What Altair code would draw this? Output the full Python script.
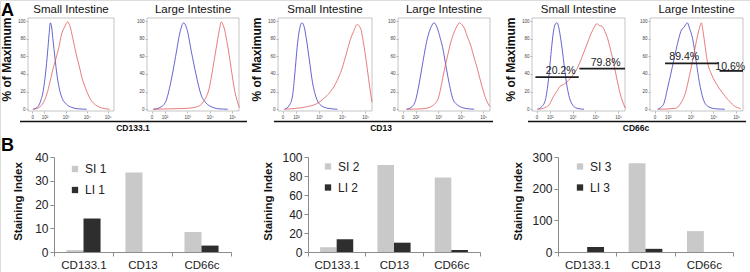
import altair as alt
import pandas as pd

FONT = "Liberation Sans"
BLUE = "#3d3dc4"
RED = "#e25a5a"
LIGHT = "#c9c9c9"
DARK = "#2e2e2e"
H = 272  # chart height

# ---------------- data ----------------
markers = ["CD133.1", "CD13", "CD66c"]
tissue_titles = ["Small Intestine", "Large Intestine"]

# Histogram curves. x: decades (0 -> 10^2, 1 -> 10^3, ...), y: % of maximum
cd133_si_blue_x = [-0.55, -0.35, -0.2, -0.05, 0.05, 0.15, 0.22, 0.28, 0.33, 0.4, 0.5, 0.6, 0.72, 0.85, 1.03, 1.3, 1.6, 2.0]
cd133_si_blue_y = [0, 2, 8, 22, 40, 65, 85, 98, 95, 80, 58, 38, 22, 12, 6, 2, 0.5, 0]
cd133_si_red_x = [-0.5, -0.2, 0, 0.15, 0.3, 0.42, 0.55, 0.7, 0.8, 0.95, 1.1, 1.2, 1.35, 1.5, 1.65, 1.8, 1.95, 2.1, 2.25, 2.42, 2.65, 2.9, 3.1]
cd133_si_red_y = [0, 3, 10, 20, 35, 47, 58, 72, 84, 93, 99, 95, 80, 63, 49, 34, 24, 15, 9, 5, 2, 0.5, 0]
cd133_li_blue_x = [-0.5, -0.2, 0.04, 0.27, 0.49, 0.69, 0.84, 1.0, 1.19, 1.39, 1.61, 1.84, 2.06, 2.4, 2.8]
cd133_li_blue_y = [0, 2, 8, 30, 60, 88, 98, 90, 65, 40, 17, 7, 3, 0.5, 0]
cd133_li_red_x = [-0.5, 0.3, 1.0, 1.46, 1.76, 1.99, 2.13, 2.28, 2.43, 2.51, 2.63, 2.81, 2.96, 3.1, 3.25, 3.32]
cd133_li_red_y = [0, 0.5, 1, 3, 10, 25, 45, 68, 90, 99, 93, 70, 45, 22, 7, 2]

cd13_si_blue_x = [-0.5, -0.3, -0.15, -0.05, 0.05, 0.15, 0.26, 0.35, 0.45, 0.57, 0.72, 0.88, 1.1, 1.4, 1.8]
cd13_si_blue_y = [0, 4, 15, 40, 70, 90, 98, 94, 80, 58, 30, 13, 4, 1, 0]
cd13_si_red_x = [-0.5, 0, 0.5, 0.88, 1.2, 1.5, 1.7, 1.88, 2.0, 2.1, 2.26, 2.4, 2.5, 2.65, 2.8, 2.95, 3.1, 3.2, 3.3]
cd13_si_red_y = [0, 1, 3, 6, 12, 20, 28, 38, 46, 55, 70, 82, 88, 96, 92, 72, 45, 25, 8]
cd13_li_blue_x = [-0.4, -0.15, 0, 0.15, 0.3, 0.52, 0.7, 0.82, 0.95, 1.1, 1.2, 1.34, 1.5, 1.65, 1.85, 2.2, 2.6]
cd13_li_blue_y = [0, 3, 10, 28, 50, 80, 94, 98, 93, 80, 70, 50, 28, 12, 5, 1, 0]
cd13_li_red_x = [-0.4, 0.3, 0.6, 0.97, 1.1, 1.2, 1.34, 1.45, 1.55, 1.72, 1.85, 1.94, 2.05, 2.16, 2.3, 2.45, 2.6, 2.75, 2.9, 3.06, 3.2, 3.3]
cd13_li_red_y = [0, 0.5, 2, 10, 22, 35, 52, 64, 75, 88, 95, 98, 96, 92, 82, 72, 58, 45, 30, 16, 7, 3]

cd66_si_blue_x = [-0.55, -0.35, -0.2, -0.05, 0.05, 0.16, 0.25, 0.32, 0.4, 0.48, 0.56, 0.63, 0.72, 0.8, 0.95, 1.2, 1.5]
cd66_si_blue_y = [0, 3, 10, 35, 62, 88, 97, 98, 92, 80, 65, 50, 32, 20, 7, 1, 0]
cd66_si_red_x = [-0.5, -0.2, 0, 0.15, 0.3, 0.45, 0.6, 0.75, 0.9, 1.05, 1.2, 1.35, 1.5, 1.65, 1.8, 1.95, 2.06, 2.18, 2.3, 2.42, 2.54, 2.66, 2.78, 2.9, 3.02, 3.15, 3.25, 3.32]
cd66_si_red_y = [0, 2, 6, 14, 20, 26, 28, 31, 35, 40, 46, 55, 65, 75, 85, 93, 97, 95, 94, 88, 80, 68, 55, 40, 25, 12, 5, 1]
cd66_li_blue_x = [-0.45, -0.2, 0, 0.26, 0.48, 0.6, 0.71, 0.86, 0.95, 1.09, 1.24, 1.39, 1.55, 1.77, 2.1, 2.5]
cd66_li_blue_y = [0, 5, 25, 55, 80, 90, 93, 98, 92, 80, 55, 30, 12, 3, 0.5, 0]
cd66_li_red_x = [-0.4, 0.33, 0.55, 0.79, 0.95, 1.09, 1.2, 1.32, 1.42, 1.47, 1.55, 1.62, 1.7, 1.77, 1.88, 2.0, 2.15, 2.3, 2.45, 2.6, 2.75, 2.9, 3.05, 3.2]
cd66_li_red_y = [0, 1, 6, 20, 38, 55, 70, 85, 95, 98, 88, 75, 60, 50, 42, 35, 28, 22, 17, 12, 8, 4, 2, 0.5]

# CD66c gates
gate_si_x = [-0.63, 1.3]
gate_si_x2 = [1.27, 3.3]
gate_si_y = [36.5, 46]
gate_si_label = ["20.2%", "79.8%"]
gate_si_label_x = [0.48, 2.45]
gate_si_label_y = [43, 53]
gate_li_x = [-0.12, 2.27]
gate_li_x2 = [2.23, 3.3]
gate_li_y = [52, 43.5]
gate_li_label = ["89.4%", "10.6%"]
gate_li_label_x = [0.72, 2.74]
gate_li_label_y = [59, 47.5]

# Staining index bars
si_1 = [0.8, 33.5, 8.4]
li_1 = [14.1, 0.0, 2.7]
si_2 = [5.0, 91.5, 78.5]
li_2 = [13.3, 9.8, 2.1]
si_3 = [0.0, 280.0, 66.0]
li_3 = [15.5, 10.0, 0.0]
bar_max = [40, 100, 300]
bar_ticks = [[0, 10, 20, 30, 40], [0, 20, 40, 60, 80, 100], [0, 100, 200, 300]]

# ---------------- layout (pixels) ----------------
UMIN, UMAX = -0.78, 3.3
PMIN, PMAX = -2, 103.5
HIST_X = [(28, 114), (147, 239), (278, 372), (398, 490), (532, 625), (650, 743)]
HIST_Y = (111, 18)
BAR_X = [(54, 231), (308, 480), (558, 733)]
BAR_Y = (252, 157)
LEGEND_XY = [(69, 163), (322, 160.5), (574, 160.5)]
BRACKETS = [(20, 247, 133), (274, 493, 381), (528, 746, 636)]

LABEL_EXPR = ("datum.value < -0.3 ? '0' : "
              "'10' + ['\u00b2','\u00b3','\u2074','\u2075'][round(datum.value)]")


def hist_panel(bx, by, rx, ry, xr, title, ytitle, gates=None):
    xs = alt.Scale(domain=[UMIN, UMAX], range=list(xr), nice=False, zero=False)
    ys = alt.Scale(domain=[PMIN, PMAX], range=list(HIST_Y), nice=False, zero=False)
    xax = alt.Axis(orient="bottom", offset=HIST_Y[0] - H, values=[-0.58, 0, 1, 2, 3],
                   labelExpr=LABEL_EXPR, domain=False, grid=False, tickSize=2,
                   tickWidth=0.5, tickColor="#777", labelFontSize=4.5,
                   labelColor="#444", labelPadding=1, title=None)
    yargs = dict(orient="left", offset=-xr[0], values=[0, 20, 40, 60, 80, 100],
                 domain=False, grid=False, tickSize=2, tickWidth=0.5, tickColor="#777",
                 labelFontSize=4.5, labelColor="#444", labelPadding=1)
    if ytitle:
        yargs.update(title=ytitle, titleFontSize=12, titleFontWeight="bold",
                     titleColor="#111", titleAngle=270, titleAlign="center",
                     titleBaseline="middle", titleX=-22, titleY=59)
    else:
        yargs.update(title=None)
    yax = alt.Axis(**yargs)

    def curve(x, y, color):
        df = pd.DataFrame({"u": x, "p": y})
        return alt.Chart(df).mark_line(color=color, strokeWidth=0.8,
                                       interpolate="monotone").encode(
            x=alt.X("u:Q", scale=xs, axis=xax),
            y=alt.Y("p:Q", scale=ys, axis=yax))

    frame_df = pd.DataFrame({"k": [0]})
    frame = alt.Chart(frame_df).mark_rect(fillOpacity=0, stroke="#a0a0a0",
                                          strokeWidth=0.6).encode(
        x=alt.XDatum(UMIN, type="quantitative", scale=xs, axis=xax),
        x2=alt.X2Datum(UMAX),
        y=alt.YDatum(PMIN, type="quantitative", scale=ys, axis=yax),
        y2=alt.Y2Datum(PMAX))
    ttl = alt.Chart(pd.DataFrame({"t": [title]})).mark_text(
        fontSize=11.5, baseline="middle", align="center", color="#111").encode(
        x=alt.XDatum((UMIN + UMAX) / 2, type="quantitative", scale=xs, axis=xax),
        y=alt.value(10), text="t:N")
    layers = [frame, curve(bx, by, BLUE), curve(rx, ry, RED), ttl]
    if gates:
        gx, gx2, gy, gl, glx, gly = gates
        gdf = pd.DataFrame({"a": gx, "b": gx2, "y": gy})
        ldf = pd.DataFrame({"t": gl, "u": glx, "p": gly})
        layers.append(alt.Chart(gdf).mark_rule(color="#1e1e1e", strokeWidth=1.8).encode(
            x=alt.X("a:Q", scale=xs, axis=xax), x2="b:Q",
            y=alt.Y("y:Q", scale=ys, axis=yax)))
        layers.append(alt.Chart(ldf).mark_text(fontSize=10.5, color="#222",
                                               baseline="middle").encode(
            x=alt.X("u:Q", scale=xs, axis=xax), y=alt.Y("p:Q", scale=ys, axis=yax),
            text="t:N"))
    return alt.layer(*layers)


def bar_panel(si, li, idx):
    xr = BAR_X[idx]
    s_name, l_name = f"SI {idx + 1}", f"LI {idx + 1}"
    df = pd.DataFrame({"marker": markers * 2,
                       "series": [s_name] * 3 + [l_name] * 3,
                       "v": si + li})
    lx, ly = LEGEND_XY[idx]
    return alt.Chart(df).mark_bar().encode(
        x=alt.X("marker:N", sort=markers,
                scale=alt.Scale(range=list(xr), paddingInner=0, paddingOuter=0),
                axis=alt.Axis(orient="bottom", offset=BAR_Y[0] - H, tickBand="extent",
                              labelAngle=0, labelFontSize=11.5, labelColor="#222",
                              domainColor="#8c8c8c", tickColor="#8c8c8c", tickSize=4,
                              labelPadding=3, title=None)),
        xOffset=alt.XOffset("series:N", sort=[s_name, l_name],
                            scale=alt.Scale(paddingInner=0, paddingOuter=0.73)),
        y=alt.Y("v:Q", scale=alt.Scale(domain=[0, bar_max[idx]], range=list(BAR_Y),
                                       nice=False, zero=True),
                axis=alt.Axis(orient="left", offset=-xr[0], values=bar_ticks[idx],
                              grid=False, domainColor="#8c8c8c", tickColor="#8c8c8c",
                              tickSize=4, labelFontSize=12, labelColor="#222",
                              labelPadding=2, title="Staining Index",
                              titleFontSize=11.5, titleFontWeight="bold",
                              titleColor="#111", titleAngle=270, titleAlign="center",
                              titleBaseline="middle",
                              titleX=-36 if idx == 0 else -40, titleY=201)),
        color=alt.Color("series:N", sort=[s_name, l_name],
                        scale=alt.Scale(domain=[s_name, l_name], range=[LIGHT, DARK]),
                        legend=alt.Legend(orient="none", legendX=lx, legendY=ly,
                                          title=None, direction="vertical",
                                          symbolType="square", symbolSize=40,
                                          symbolStrokeWidth=0, labelFontSize=12,
                                          labelColor="#222", rowPadding=9,
                                          labelOffset=4, padding=0)))


curves = [
    (cd133_si_blue_x, cd133_si_blue_y, cd133_si_red_x, cd133_si_red_y),
    (cd133_li_blue_x, cd133_li_blue_y, cd133_li_red_x, cd133_li_red_y),
    (cd13_si_blue_x, cd13_si_blue_y, cd13_si_red_x, cd13_si_red_y),
    (cd13_li_blue_x, cd13_li_blue_y, cd13_li_red_x, cd13_li_red_y),
    (cd66_si_blue_x, cd66_si_blue_y, cd66_si_red_x, cd66_si_red_y),
    (cd66_li_blue_x, cd66_li_blue_y, cd66_li_red_x, cd66_li_red_y),
]
gate_sets = {4: (gate_si_x, gate_si_x2, gate_si_y, gate_si_label, gate_si_label_x, gate_si_label_y),
             5: (gate_li_x, gate_li_x2, gate_li_y, gate_li_label, gate_li_label_x, gate_li_label_y)}

layers = []
for i, (bx, by, rx, ry) in enumerate(curves):
    layers.append(hist_panel(bx, by, rx, ry, HIST_X[i], tissue_titles[i % 2],
                             "% of Maximum" if i % 2 == 0 else None,
                             gate_sets.get(i)))

for i, (si, li) in enumerate([(si_1, li_1), (si_2, li_2), (si_3, li_3)]):
    layers.append(bar_panel(si, li, i))

# brackets + marker names under the histogram pairs
for (a, b, c), m in zip(BRACKETS, markers):
    layers.append(alt.Chart(pd.DataFrame({"k": [0]})).mark_rule(
        color="#111", strokeWidth=1.6).encode(
        x=alt.value(a), x2=alt.value(b), y=alt.value(121.5)))
    layers.append(alt.Chart(pd.DataFrame({"t": [m]})).mark_text(
        fontSize=8.5, fontWeight="bold", color="#111", baseline="middle").encode(
        x=alt.value(c), y=alt.value(128), text="t:N"))

for lab, yy in [("A", 10.5), ("B", 146)]:
    layers.append(alt.Chart(pd.DataFrame({"t": [lab]})).mark_text(
        fontSize=18, fontWeight="bold", color="#000", baseline="middle",
        align="left").encode(x=alt.value(1), y=alt.value(yy), text="t:N"))

chart = alt.layer(*layers).resolve_scale(
    x="independent", y="independent", xOffset="independent", color="independent"
).resolve_axis(x="independent", y="independent").resolve_legend(
    color="independent"
).properties(
    width=750, height=H, padding=0, autosize=alt.AutoSizeParams(type="none")
).configure_view(strokeWidth=0).configure(font=FONT)

chart.save("out.html", embed_options={"renderer": "svg", "actions": False})
